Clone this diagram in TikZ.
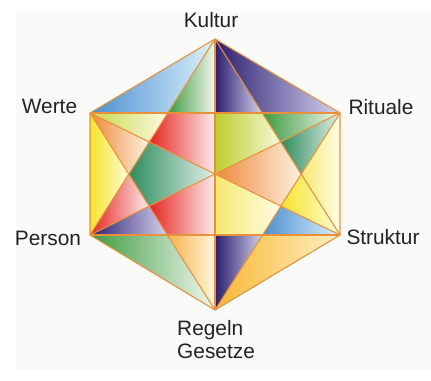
\documentclass[tikz,border=0pt]{standalone}
\usepackage{fontspec}
\setmainfont{Liberation Sans}
\definecolor{edge}{HTML}{E8913A}
\definecolor{paper}{HTML}{FAFAF8}
\definecolor{labeltext}{HTML}{232323}
\definecolor{blueL}{HTML}{4A8FD0}   \definecolor{blueR}{HTML}{DDF2FB}
\definecolor{greenL}{HTML}{3E9B40}  \definecolor{greenR}{HTML}{F2F8F0}
\definecolor{navyL}{HTML}{2B1D70}   \definecolor{navyR}{HTML}{D4D4EE}
\definecolor{limeL}{HTML}{C9DA4A}   \definecolor{limeR}{HTML}{FAFAE0}
\definecolor{oliveL}{HTML}{BCCE2C}  \definecolor{oliveR}{HTML}{F8F8D8}
\definecolor{redL}{HTML}{E52521}    \definecolor{redR}{HTML}{FDECEC}
\definecolor{orangeL}{HTML}{EE8A3C} \definecolor{orangeR}{HTML}{FFF1E0}
\definecolor{yellowL}{HTML}{F6E52A} \definecolor{yellowR}{HTML}{FFFBD8}
\definecolor{tealL}{HTML}{2E8C5E}   \definecolor{tealR}{HTML}{E2F1EA}
\definecolor{paleL}{HTML}{F5EA70}   \definecolor{paleR}{HTML}{FFFCE6}
\definecolor{peachL}{HTML}{F6B24A}  \definecolor{peachR}{HTML}{FFF6DC}
\definecolor{goldL}{HTML}{F7B733}   \definecolor{goldR}{HTML}{FFF0C4}
\begin{document}
\begin{tikzpicture}[x=0.03cm, y=0.03cm,
  line/.style={draw=edge, line width=0.9pt, line join=round},
  region/.style 2 args={left color=#1L, right color=#2R},
  label/.style={font=\fontsize{17.8}{19.6}\selectfont, text=labeltext, inner sep=0pt}]
\useasboundingbox (0,0) rectangle (431,380);
\fill[paper] (16,10) rectangle (431,368);
% corners of the hexagon
\coordinate (O) at (215,206);
\coordinate (K) at (215,341);
\coordinate (W) at (90,267);
\coordinate (R) at (340,267);
\coordinate (P) at (90,145);
\coordinate (S) at (340,145);
\coordinate (G) at (215,70);
\coordinate (M1) at (215,267);
\coordinate (M2) at (215,145);
% crossings
\coordinate (T1) at (intersection of K--P and W--R);
\coordinate (T2) at (intersection of K--S and W--R);
\coordinate (U1) at (intersection of W--G and P--S);
\coordinate (U2) at (intersection of R--G and P--S);
\coordinate (A1) at (intersection of K--P and W--S);
\coordinate (A2) at (intersection of W--G and R--P);
\coordinate (A3) at (intersection of K--P and W--G);
\coordinate (B1) at (intersection of K--S and R--P);
\coordinate (B2) at (intersection of R--G and W--S);
\coordinate (B3) at (intersection of K--S and R--G);
% top triangle
\shade[region={blue}{blue}] (K) -- (W) -- (T1) -- cycle;
\shade[region={green}{green}] (K) -- (T1) -- (M1) -- cycle;
\shade[region={navy}{navy}] (K) -- (M1) -- (T2) -- cycle;
\shade[region={navy}{navy}] (K) -- (T2) -- (R) -- cycle;
% left half
\shade[region={lime}{lime}] (W) -- (T1) -- (A1) -- cycle;
\shade[region={red}{red}] (T1) -- (M1) -- (O) -- (A1) -- cycle;
\shade[region={orange}{orange}] (W) -- (A1) -- (A3) -- cycle;
\shade[region={yellow}{yellow}] (W) -- (A3) -- (P) -- cycle;
\shade[region={teal}{teal}] (A1) -- (O) -- (A2) -- (A3) -- cycle;
\shade[region={red}{red}] (P) -- (A3) -- (A2) -- cycle;
\shade[region={red}{red}] (A2) -- (O) -- (M2) -- (U1) -- cycle;
\shade[region={navy}{navy}] (P) -- (A2) -- (U1) -- cycle;
% right half
\shade[region={olive}{olive}] (M1) -- (T2) -- (B1) -- (O) -- cycle;
\shade[region={green}{green}] (T2) -- (R) -- (B1) -- cycle;
\shade[region={teal}{teal}] (B1) -- (R) -- (B3) -- cycle;
\shade[region={pale}{pale}] (R) -- (S) -- (B3) -- cycle;
\shade[region={orange}{orange}] (O) -- (B1) -- (B3) -- (B2) -- cycle;
\shade[region={yellow}{yellow}] (B3) -- (S) -- (B2) -- cycle;
\shade[region={pale}{pale}] (O) -- (B2) -- (U2) -- (M2) -- cycle;
\shade[region={blue}{blue}] (B2) -- (S) -- (U2) -- cycle;
% bottom triangle
\shade[region={green}{green}] (P) -- (U1) -- (G) -- cycle;
\shade[region={peach}{peach}] (U1) -- (M2) -- (G) -- cycle;
\shade[region={navy}{navy}] (M2) -- (U2) -- (G) -- cycle;
\shade[region={gold}{gold}] (U2) -- (S) -- (G) -- cycle;
% lines
\draw[line] (K) -- (R) -- (S) -- (G) -- (P) -- (W) -- cycle;
\draw[line] (W) -- (R);
\draw[line] (P) -- (S);
\draw[line] (K) -- (G);
\draw[line] (W) -- (S);
\draw[line] (R) -- (P);
\draw[line] (K) -- (P);
\draw[line] (K) -- (S);
\draw[line] (W) -- (G);
\draw[line] (R) -- (G);
% labels
\node[label] (kultur) at (211,360) {Kultur};
\node[label] (werte) at (49.5,274) {Werte};
\node[label] (rituale) at (381,273) {Rituale};
\node[label] (person) at (48,142) {Person};
\node[label] (struktur) at (383,143) {Struktur};
\node[label, align=left, anchor=west] (regeln) at (177,40) {Regeln\\Gesetze};
\end{tikzpicture}
\end{document}
